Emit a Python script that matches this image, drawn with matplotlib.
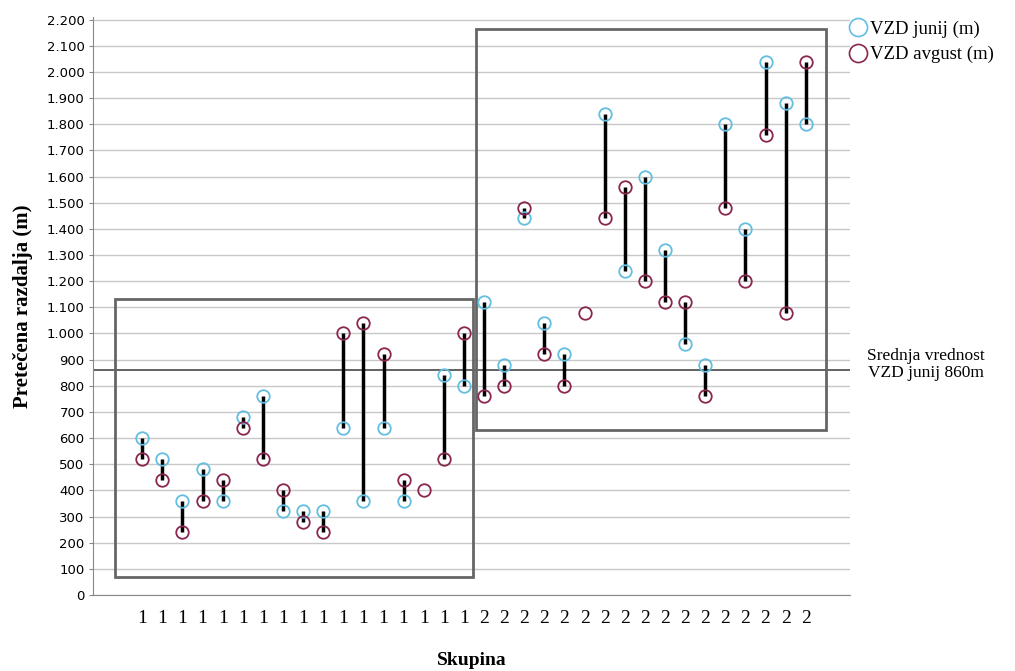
import matplotlib.pyplot as plt
from matplotlib.lines import Line2D
from matplotlib.patches import Rectangle
from matplotlib.ticker import FuncFormatter, MultipleLocator
import numpy as np

# Skupina (group) per case
skupina = [1] * 17 + [2] * 17

# VZD junij (m) and VZD avgust (m), nan = missing
junij = [600, 520, 360, 480, 360, 680, 760, 320, 320, 320, 640, 360, 640, 360, np.nan, 840, 800,
         1120, 880, 1440, 1040, 920, np.nan, 1840, 1240, 1600, 1320, 960, 880, 1800, 1400, 2040, 1880, 1800]
avgust = [520, 440, 240, 360, 440, 640, 520, 400, 280, 240, 1000, 1040, 920, 440, 400, 520, 1000,
          760, 800, 1480, 920, 800, 1080, 1440, 1560, 1200, 1120, 1120, 760, 1480, 1200, 1760, 1080, 2040]

mean_junij = 860

blue = '#63BEE0'
red = '#8A2650'
serif = ['Liberation Serif', 'DejaVu Serif']

junij = np.array(junij, dtype=float)
avgust = np.array(avgust, dtype=float)
x = np.arange(len(skupina))

fig = plt.figure(figsize=(10.15, 6.71), dpi=100)
ax = fig.add_axes([0.0916, 0.1133, 0.7458, 0.862])

# gridlines
ax.set_ylim(0, 2212)
ax.set_xlim(-2.45, 35.2)
ax.yaxis.set_major_locator(MultipleLocator(100))
ax.grid(axis='y', color='#C8C8C8', lw=1.0)
ax.set_axisbelow(True)

# connecting lines
both = ~np.isnan(junij) & ~np.isnan(avgust)
ax.vlines(x[both], junij[both], avgust[both], color='black', lw=2.5, zorder=3)

ax.plot(x, junij, 'o', ms=9, mfc='none', mec=blue, mew=1.3, zorder=4)
ax.plot(x, avgust, 'o', ms=9, mfc='none', mec=red, mew=1.3, zorder=4)

# mean line
ax.axhline(mean_junij, color='#555555', lw=1.3, zorder=2)
ax.text(1.1, mean_junij + 20, 'Srednja vrednost\nVZD junij 860m', transform=ax.get_yaxis_transform(),
        ha='center', va='center', fontsize=12.5, family=serif, linespacing=1.1)

# group boxes
ax.add_patch(Rectangle((-1.35, 70), 17.8, 1062, fill=False, ec='#666666', lw=2, zorder=2))
ax.add_patch(Rectangle((16.6, 630), 17.4, 1535, fill=False, ec='#666666', lw=2, zorder=2))

ax.yaxis.set_major_formatter(FuncFormatter(lambda v, p: f'{int(v):,}'.replace(',', '.')))
ax.tick_params(axis='y', labelsize=9.5, length=3, color='#888888', pad=3)
ax.set_xticks(x)
ax.set_xticklabels([str(s) for s in skupina], fontsize=14, family=serif)
ax.tick_params(axis='x', length=0, pad=11)

for s in ['top', 'right']:
    ax.spines[s].set_visible(False)
for s in ['left', 'bottom']:
    ax.spines[s].set_color('#888888')

ax.set_ylabel('Pretečena razdalja (m)', fontsize=15, fontweight='bold', family=serif, labelpad=10)
ax.set_xlabel('Skupina', fontsize=14, fontweight='bold', family=serif, labelpad=18)

handles = [Line2D([], [], ls='none', marker='o', ms=13, mfc='none', mec=blue, mew=1.2),
           Line2D([], [], ls='none', marker='o', ms=13, mfc='none', mec=red, mew=1.2)]
fig.legend(handles, ['VZD junij (m)', 'VZD avgust (m)'], loc='upper left', bbox_to_anchor=(0.818, 0.995),
           frameon=False, handletextpad=0.0, handlelength=1.2, labelspacing=0.45,
           prop={'family': serif, 'size': 13.5})

fig.savefig('out.png', dpi=100)
